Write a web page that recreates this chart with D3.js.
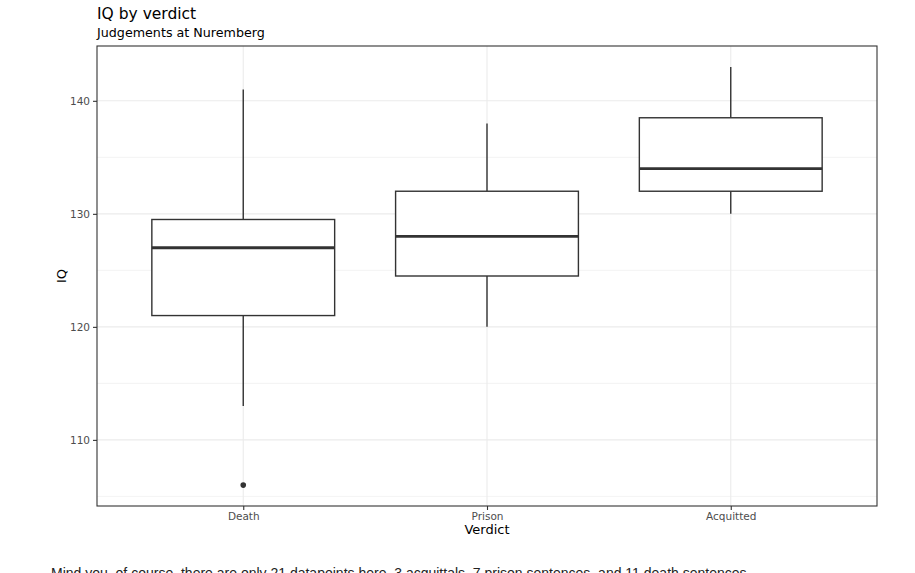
<!DOCTYPE html>
<html>
<head>
<meta charset="utf-8">
<script src="https://cdn.jsdelivr.net/npm/d3@7"></script>
<style>
  body { margin: 0; background: #fff; overflow: hidden; }
  .note { position: absolute; left: 51px; top: 565px; font-family: "Liberation Sans", Arial, sans-serif; font-size: 14px; color: #222; white-space: nowrap; }
</style>
</head>
<body>
<svg id="chart" width="915" height="573"></svg>
<div class="note">Mind you, of course, there are only 21 datapoints here. 3 acquittals, 7 prison sentences, and 11 death sentences.</div>
<script>
const verdicts = ['Death', 'Prison', 'Acquitted'];
const whiskerLow = [113, 120, 130];
const q1 = [121, 124.5, 132];
const median = [127, 128, 134];
const q3 = [129.5, 132, 138.5];
const whiskerHigh = [141, 138, 143];
const outliers = [[106], [], []];

const majorTicks = [110, 120, 130, 140];
const minorTicks = [105, 115, 125, 135];

const margin = { top: 46, right: 38, bottom: 67, left: 97 };
const width = 915 - margin.left - margin.right;
const height = 573 - margin.top - margin.bottom;
const font = 'DejaVu Sans, sans-serif';
const ink = '#333333';

const svg = d3.select('#chart');

const g = svg.append('g')
  .attr('transform', `translate(${margin.left}, ${margin.top})`);

// ggplot-ish continuous expansion: 5% on each side
const lo = d3.min(outliers.flat().concat(whiskerLow));
const hi = d3.max(whiskerHigh);
const pad = (hi - lo) * 0.05;

const yScale = d3.scaleLinear()
  .domain([lo - pad, hi + pad])
  .range([height, 0]);

// discrete expansion 0.6 units each side
const xScale = d3.scaleLinear()
  .domain([0.4, verdicts.length + 0.6])
  .range([0, width]);
const xPos = i => xScale(i + 1);
const boxW = xScale(1.75) - xScale(1);

// grid
g.append('g').selectAll('line')
  .data(minorTicks)
  .enter()
  .append('line')
  .attr('x1', 0).attr('x2', width)
  .attr('y1', d => yScale(d)).attr('y2', d => yScale(d))
  .attr('stroke', '#ebebeb')
  .attr('stroke-width', 0.6);

g.append('g').selectAll('line')
  .data(majorTicks)
  .enter()
  .append('line')
  .attr('x1', 0).attr('x2', width)
  .attr('y1', d => yScale(d)).attr('y2', d => yScale(d))
  .attr('stroke', '#ebebeb')
  .attr('stroke-width', 1.1);

g.append('g').selectAll('line')
  .data(verdicts)
  .enter()
  .append('line')
  .attr('x1', (d, i) => xPos(i)).attr('x2', (d, i) => xPos(i))
  .attr('y1', 0).attr('y2', height)
  .attr('stroke', '#ebebeb')
  .attr('stroke-width', 1.1);

// boxes
const boxes = g.append('g').selectAll('.box')
  .data(verdicts)
  .enter()
  .append('g')
  .attr('class', 'box');

boxes.append('line')
  .attr('x1', (d, i) => xPos(i)).attr('x2', (d, i) => xPos(i))
  .attr('y1', (d, i) => yScale(q3[i])).attr('y2', (d, i) => yScale(whiskerHigh[i]))
  .attr('stroke', ink).attr('stroke-width', 1.4);

boxes.append('line')
  .attr('x1', (d, i) => xPos(i)).attr('x2', (d, i) => xPos(i))
  .attr('y1', (d, i) => yScale(q1[i])).attr('y2', (d, i) => yScale(whiskerLow[i]))
  .attr('stroke', ink).attr('stroke-width', 1.4);

boxes.append('rect')
  .attr('x', (d, i) => xPos(i) - boxW / 2)
  .attr('width', boxW)
  .attr('y', (d, i) => yScale(q3[i]))
  .attr('height', (d, i) => yScale(q1[i]) - yScale(q3[i]))
  .attr('fill', '#fff')
  .attr('stroke', ink).attr('stroke-width', 1.4);

boxes.append('line')
  .attr('x1', (d, i) => xPos(i) - boxW / 2).attr('x2', (d, i) => xPos(i) + boxW / 2)
  .attr('y1', (d, i) => yScale(median[i])).attr('y2', (d, i) => yScale(median[i]))
  .attr('stroke', ink).attr('stroke-width', 2.8);

boxes.selectAll('circle')
  .data((d, i) => outliers[i].map(v => ({ i, v })))
  .enter()
  .append('circle')
  .attr('cx', d => xPos(d.i))
  .attr('cy', d => yScale(d.v))
  .attr('r', 2.8)
  .attr('fill', ink);

// panel border
g.append('rect')
  .attr('width', width).attr('height', height)
  .attr('fill', 'none')
  .attr('stroke', ink).attr('stroke-width', 1.1);

// axes
const yAxis = d3.axisLeft(yScale).tickValues(majorTicks).tickSize(4).tickPadding(3);
const xAxis = d3.axisBottom(xScale).tickValues([1, 2, 3]).tickFormat(d => verdicts[d - 1]).tickSize(4).tickPadding(3);

const ya = g.append('g').call(yAxis);
const xa = g.append('g').attr('transform', `translate(0, ${height})`).call(xAxis);

[ya, xa].forEach(a => {
  a.select('.domain').remove();
  a.selectAll('.tick line').attr('stroke', ink).attr('stroke-width', 1.1);
  a.selectAll('.tick text')
    .attr('fill', '#4d4d4d')
    .style('font-family', font)
    .style('font-size', '10.5px');
});

// titles
svg.append('text')
  .attr('x', margin.left).attr('y', 19)
  .style('font-family', font).style('font-size', '15.5px')
  .attr('fill', '#000')
  .text('IQ by verdict');

svg.append('text')
  .attr('x', margin.left).attr('y', 37)
  .style('font-family', font).style('font-size', '12.7px')
  .attr('fill', '#000')
  .text('Judgements at Nuremberg');

svg.append('text')
  .attr('x', margin.left + width / 2).attr('y', 534)
  .attr('text-anchor', 'middle')
  .style('font-family', font).style('font-size', '13px')
  .attr('fill', '#000')
  .text('Verdict');

svg.append('text')
  .attr('transform', `translate(66, ${margin.top + height / 2}) rotate(-90)`)
  .attr('text-anchor', 'middle')
  .style('font-family', font).style('font-size', '13px')
  .attr('fill', '#000')
  .text('IQ');
</script>
</body>
</html>
